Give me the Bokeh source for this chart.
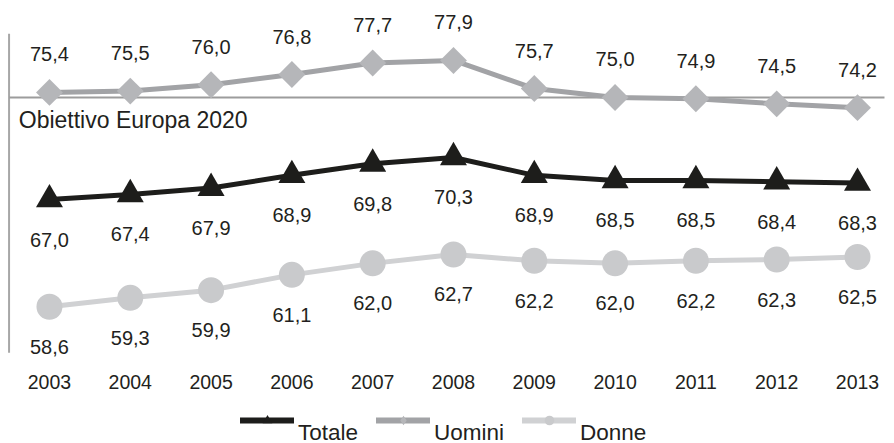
from math import pi
from bokeh.plotting import figure
from bokeh.layouts import column
from bokeh.core.properties import value
from bokeh.models import (ColumnDataSource, LabelSet, Range1d, FixedTicker,
                          Legend, LegendItem, Label)
from bokeh.embed import file_html
from bokeh.resources import INLINE

# ---- data ----
years = [2003, 2004, 2005, 2006, 2007, 2008, 2009, 2010, 2011, 2012, 2013]
totale = [67.0, 67.4, 67.9, 68.9, 69.8, 70.3, 68.9, 68.5, 68.5, 68.4, 68.3]
uomini = [75.4, 75.5, 76.0, 76.8, 77.7, 77.9, 75.7, 75.0, 74.9, 74.5, 74.2]
donne = [58.6, 59.3, 59.9, 61.1, 62.0, 62.7, 62.2, 62.0, 62.2, 62.3, 62.5]
target = 75
target_label = "Obiettivo Europa 2020"
series_names = ["Totale", "Uomini", "Donne"]

FONT = "Liberation Sans"
TXT = "#231f20"

def fmt(vals):
    return [f"{v:.1f}".replace(".", ",") for v in vals]

x_start, x_end = 2002.394, 2013.458
y_start, y_end = 54.545, 82.60
rule_x = 2002.5          # left rule position
rule_y = (55, 80)        # vertical extent of the left rule
target_end = 2013.334

STYLE = {
    "Uomini": dict(line=dict(line_color="#a2a3a6", line_width=5),
                   mark=dict(marker="square", angle=pi / 4, size=19,
                             fill_color="#b5b6b9", line_color=None)),
    "Donne": dict(line=dict(line_color="#d0d1d3", line_width=5),
                  mark=dict(marker="circle", size=26,
                            fill_color="#c9cacc", line_color=None)),
    "Totale": dict(line=dict(line_color="#1d1d1b", line_width=5),
                   mark=dict(marker="triangle", size=27,
                             fill_color="#1d1d1b", line_color=None)),
}
LEGEND_MARK = {"Uomini": "diamond", "Donne": "circle", "Totale": "triangle"}

p = figure(width=894, height=400, output_backend="svg", toolbar_location=None,
           x_range=Range1d(x_start, x_end), y_range=Range1d(y_start, y_end),
           min_border_left=0, min_border_right=0, min_border_top=0, min_border_bottom=42)
p.yaxis.visible = False
p.xgrid.visible = False
p.ygrid.visible = False
p.outline_line_color = None
p.background_fill_color = "white"
p.border_fill_color = "white"

ax = p.xaxis[0]
ax.ticker = FixedTicker(ticks=years)
ax.axis_line_color = None
ax.major_tick_line_color = None
ax.minor_tick_line_color = None
ax.major_tick_out = 0
ax.major_tick_in = 0
ax.major_label_standoff = 16
ax.major_label_text_font = FONT
ax.major_label_text_font_size = "19.5px"
ax.major_label_text_color = TXT

# left rule
p.segment(x0=[rule_x], y0=[rule_y[0]], x1=[rule_x], y1=[rule_y[1]],
          line_color="#a7a7a7", line_width=2)

# target line
p.segment(x0=[rule_x], y0=[target], x1=[target_end], y1=[target],
          line_color="#9c9c9c", line_width=2)
p.add_layout(Label(x=rule_x + 0.12, y=target, y_offset=-23, text=target_label,
                   text_font=FONT, text_font_size="23px", text_color=TXT,
                   text_baseline="middle", text_align="left"))

src = ColumnDataSource(dict(x=years, Totale=totale, Uomini=uomini, Donne=donne,
                            tl=fmt(totale), ul=fmt(uomini), dl=fmt(donne)))

for name in ("Uomini", "Donne", "Totale"):
    p.line("x", name, source=src, **STYLE[name]["line"])
    p.scatter("x", name, source=src, **STYLE[name]["mark"])

for col, ycol, off in (("ul", "Uomini", 38), ("tl", "Totale", -40), ("dl", "Donne", -40)):
    p.add_layout(LabelSet(x="x", y=ycol, text=col, source=src, y_offset=off,
                          text_align="center", text_baseline="middle",
                          text_font=value(FONT), text_font_size="20px",
                          text_color=TXT))

# ---- legend strip (separate figure; series drawn outside its visible range) ----
lg = figure(width=894, height=43, output_backend="svg", toolbar_location=None,
            x_range=Range1d(0, 1), y_range=Range1d(0, 1),
            min_border_left=0, min_border_right=0, min_border_top=0, min_border_bottom=0)
lg.axis.visible = False
lg.grid.visible = False
lg.outline_line_color = None
lg.background_fill_color = "white"
lg.border_fill_color = "white"

items = []
for name in series_names:
    ls = dict(STYLE[name]["line"])
    ls["line_width"] = 6
    r1 = lg.line("x", name, source=src, line_cap="round", **ls)
    ms = dict(STYLE[name]["mark"])
    ms["marker"] = LEGEND_MARK[name]
    ms.pop("angle", None)
    r2 = lg.scatter("x", name, source=src, **ms)
    # leading empty line drops the name below the glyph, as in the original legend
    items.append(LegendItem(label="\n" + name, renderers=[r1, r2]))

legend = Legend(items=items, orientation="horizontal", location=(240, -3),
                glyph_width=54, glyph_height=24,
                label_standoff=4, spacing=18,
                label_text_font=FONT, label_text_font_size="22.5px",
                label_text_line_height=1.15,
                label_text_color=TXT,
                border_line_color=None, background_fill_alpha=0,
                padding=0, margin=0)
lg.add_layout(legend)

layout = column(p, lg, spacing=0)
open("out.html", "w").write(file_html(layout, INLINE))
